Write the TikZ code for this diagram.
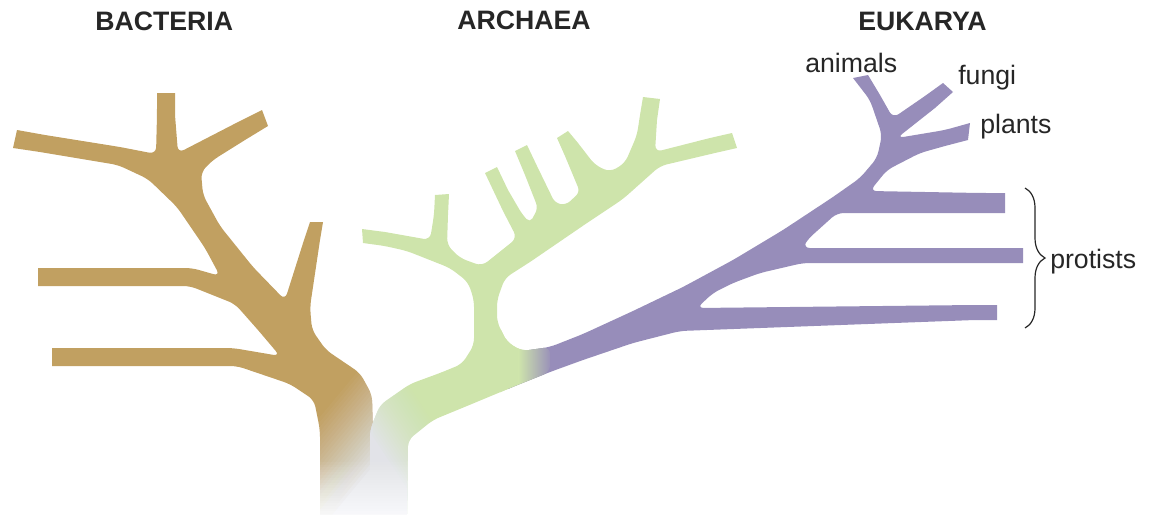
\documentclass[tikz,border=0pt]{standalone}
\usepackage{fontspec}
\setmainfont{Liberation Sans}
\usepackage{tikz}
\usetikzlibrary{decorations.pathreplacing}

\definecolor{bactbrown}{RGB}{193,160,97}
\definecolor{archgreen}{RGB}{206,228,171}
\definecolor{eukpurple}{RGB}{151,141,186}
\definecolor{basegray}{RGB}{226,227,232}
\definecolor{inkgray}{RGB}{38,38,38}

% outlines of the three domains (pixel units, y downwards)
\newcommand{\bactoutline}{(320,520) [rounded corners=5pt] -- (320,430) -- (314,400) -- (290,384) -- (237,366)
  -- (80,366) [sharp corners] -- (52,366) -- (52,348) -- (80,348) [rounded corners=5pt]
  -- (233,348) -- (280,356) -- (258,330) -- (235,304) -- (190,286)
  -- (66,286) [sharp corners] -- (38,286) -- (38,268) -- (66,268) [rounded corners=5pt]
  -- (192,268) -- (220,276) -- (205,248) -- (177,207) -- (148,179) -- (118,165)
  -- (40,152) [sharp corners] -- (13,148) -- (17,130) -- (45,135) [rounded corners=5pt]
  -- (120,147) -- (156,154)
  -- (157,115) [sharp corners] -- (157,93) -- (175,93) -- (175,115) [rounded corners=5pt]
  -- (178,153) -- (240,121) [sharp corners] -- (262,110) -- (268,126) -- (245,140) [rounded corners=5pt]
  -- (213,160) -- (201,172) -- (203,195) -- (220,226) -- (253,267) -- (285,300)
  -- (304,240) [sharp corners] -- (310,222) -- (323,222) -- (320,240) [rounded corners=5pt]
  -- (310,307) -- (312,330) -- (326,350) -- (360,373) -- (372,395) -- (373,430) -- (373,520) -- cycle}

\newcommand{\archoutline}{(370,520) [rounded corners=5pt] -- (370,430) -- (380,405) -- (410,384) -- (440,373)
  -- (462,364) -- (474,345) -- (474,300) -- (468,282) -- (450,268) -- (407,251)
  -- (385,246) [sharp corners] -- (363,243) -- (362,229) -- (385,232) [rounded corners=5pt]
  -- (430,240) -- (434,215) [sharp corners] -- (435,195) -- (449,194) -- (448,215) [rounded corners=5pt]
  -- (447,245) -- (460,258) -- (482,266) -- (517,238)
  -- (503,211) [sharp corners] -- (485,173) -- (497,167) -- (508,190) [rounded corners=4pt]
  -- (522,214) -- (530,223) -- (538,208)
  -- (525,175) [sharp corners] -- (515,151) -- (527,145) -- (537,166) [rounded corners=4pt]
  -- (555,203) -- (566,205) -- (580,192)
  -- (565,156) [sharp corners] -- (557,138) -- (568,131) -- (578,143) [rounded corners=5pt]
  -- (595,165) -- (610,172) -- (625,163) -- (637,135)
  -- (640,115) [sharp corners] -- (643,97) -- (660,99) -- (657,120) [rounded corners=5pt]
  -- (655,152) -- (710,138) [sharp corners] -- (732,133) -- (737,148) -- (715,153) [rounded corners=5pt]
  -- (660,166) -- (623,199) -- (587,223) -- (530,262) -- (505,278) -- (497,300) -- (497,322)
  -- (507,342) -- (522,351) -- (550,347) -- (550,372) -- (515,386) -- (467,406) -- (433,420)
  -- (408,440) -- (407,520) -- cycle}

\newcommand{\eukoutline}{(522,351) [rounded corners=5pt] -- (550,347) -- (583,334) -- (633,311) -- (683,287)
  -- (733,260) -- (783,230) -- (833,197) -- (860,178) -- (877,158) -- (882,135)
  -- (870,100) [sharp corners] -- (853,78) -- (868,75) -- (880,95) [rounded corners=5pt]
  -- (893,118) -- (925,96) [sharp corners] -- (943,83) -- (953,92) -- (935,108) [rounded corners=5pt]
  -- (897,138) -- (945,130) [sharp corners] -- (970,123) -- (968,140) -- (945,146) [rounded corners=5pt]
  -- (920,153) -- (887,170) -- (870,191)
  -- (980,193) [sharp corners] -- (1005,193) -- (1005,213) -- (980,213) [rounded corners=5pt]
  -- (837,213) -- (807,240) -- (803,248)
  -- (1000,248) [sharp corners] -- (1023,248) -- (1023,263) -- (1000,263) [rounded corners=5pt]
  -- (803,263) -- (760,273) -- (733,283) -- (713,293) -- (697,308)
  -- (975,305) [sharp corners] -- (997,305) -- (997,320) -- (975,320) [rounded corners=5pt]
  -- (680,331) -- (633,343) -- (583,360) -- (550,372) -- (515,386) [sharp corners] -- (508,389) -- cycle}

% stacked see-through layers: colour, start point, direction, length
\newcommand{\fadelayers}[6]{%
  \foreach \k in {0,...,23}{
    \pgfmathsetmacro{\sk}{#6*\k/24}
    \pgfmathsetmacro{\ak}{1/(24-\k)}
    \fill[#1, fill opacity=\ak]
      ({#2+(#4)*\sk+(#5)*150},{#3+(#5)*\sk-(#4)*150}) -- ({#2+(#4)*\sk-(#5)*150},{#3+(#5)*\sk+(#4)*150})
      -- ({#2+(#4)*300-(#5)*150},{#3+(#5)*300+(#4)*150}) -- ({#2+(#4)*300+(#5)*150},{#3+(#5)*300-(#4)*150}) -- cycle;
  }%
}

\begin{document}
\begin{tikzpicture}[
  x=0.75pt, y=-0.75pt,
  domainname/.style={font=\fontsize{20}{24}\selectfont\bfseries, text=inkgray, inner sep=0pt, anchor=base west},
  cladename/.style={font=\fontsize{20}{24}\selectfont, text=inkgray, inner sep=0pt, anchor=base west},
  grouping/.style={decorate, decoration={brace, amplitude=15pt, aspect=0.5}, draw=inkgray, line width=0.9pt}
]
\useasboundingbox (0,0) rectangle (1149,514);

% ===== Branches =====
\fill[bactbrown] \bactoutline;
\fill[archgreen] \archoutline;
\fill[eukpurple] \eukoutline;

% green into purple
\begin{scope}
  \clip \archoutline;
  \fill[archgreen] (500,330) rectangle (519,395);
  \shade[left color=archgreen, right color=eukpurple] (518.5,330) rectangle (552,395);
\end{scope}

% ===== Common root fading out =====
\begin{scope}
  \clip \bactoutline;
  \fadelayers{basegray}{330}{405}{0.77}{0.64}{75}
\end{scope}
\begin{scope}
  \clip \archoutline;
  \fadelayers{basegray}{418}{400}{-0.84}{0.55}{60}
\end{scope}
\fadelayers{white}{360}{462}{0}{1}{62}

% ===== Domain names =====
\node[domainname] (bacteria) at (95,31)  {BACTERIA};
\node[domainname] (archaea)  at (457,29) {ARCHAEA};
\node[domainname] (eukarya)  at (858,31) {EUKARYA};

% ===== Eukaryote groups =====
\node[cladename] (animals)  at (805,72)   {animals};
\node[cladename] (fungi)    at (958,84)   {fungi};
\node[cladename] (plants)   at (980,133)  {plants};
\node[cladename] (protists) at (1050,268) {protists};

\coordinate (ptop) at (1025,188);
\coordinate (pbot) at (1025,328);
\draw[grouping] (ptop) -- (pbot);

\end{tikzpicture}
\end{document}
